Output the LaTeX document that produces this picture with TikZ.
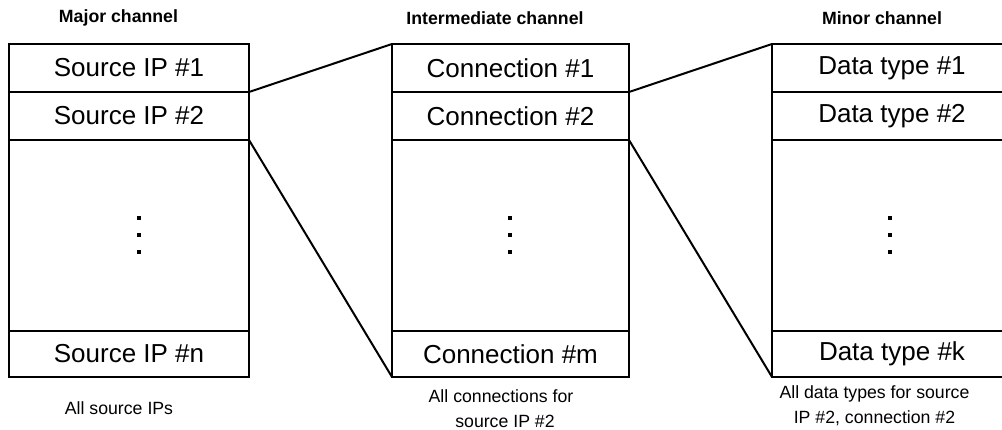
\documentclass[tikz,border=0pt]{standalone}
\usepackage{fontspec}
\setmainfont{Liberation Sans}
\begin{document}
\begin{tikzpicture}[x=1pt,y=-1pt,
  row/.style={draw,line width=2pt,inner sep=0pt,outer sep=0pt,minimum height=#1,font=\fontsize{26}{30}\selectfont},
  head/.style={font=\bfseries\fontsize{17.7}{21}\selectfont,inner sep=0pt},
  foot/.style={font=\fontsize{17.7}{25}\selectfont,inner sep=0pt,align=center},
  link/.style={line width=2pt},
  dotsq/.style={fill=black,draw=none,minimum size=3.2pt,inner sep=0pt}]
\useasboundingbox (0,0) rectangle (1002,430);
\clip (0,0) rectangle (1002,430);
% left column
\node[row=48pt,minimum width=240pt] (s1) at (129,68) {Source IP \#1};
\node[row=48pt,minimum width=240pt] (s2) at (129,116) {Source IP \#2};
\node[row=191pt,minimum width=240pt] (s3) at (129,235.5) {};
\node[row=46pt,minimum width=240pt] (sn) at (129,354) {Source IP \#n};
% middle column
\node[row=48pt,minimum width=237pt] (c1) at (510.5,68) {Connection \#1};
\node[row=48pt,minimum width=237pt] (c2) at (510.5,116) {Connection \#2};
\node[row=191pt,minimum width=237pt] (c3) at (510.5,235.5) {};
\node[row=46pt,minimum width=237pt] (cm) at (510.5,354) {Connection \#m};
% right column
\node[row=48pt,minimum width=240pt] (d1) at (892,68) {Data type \#1};
\node[row=48pt,minimum width=240pt] (d2) at (892,116) {Data type \#2};
\node[row=191pt,minimum width=240pt] (d3) at (892,235.5) {};
\node[row=46pt,minimum width=240pt] (dk) at (892,354) {Data type \#k};
% dots
\foreach \n/\xx in {dl/139,dm/510,dr/890}{
  \node[dotsq] (\n-1) at (\xx,218) {};
  \node[dotsq] (\n-2) at (\xx,235) {};
  \node[dotsq] (\n-3) at (\xx,252) {};
}
% headers
\node[head] (h1) at (118.5,18) {Major channel};
\node[head] (h2) at (495,18) {Intermediate channel};
\node[head] (h3) at (882,18) {Minor channel};
% footers
\node[foot] (f1) at (119,408) {All source IPs};
\node[foot] (f2) at (501,409) {All connections for\\ \hspace*{8pt}source IP \#2};
\node[foot] (f3) at (874.5,405.5) {All data types for source\\ IP \#2, connection \#2};
% connectors
\draw[link] (s2.north east) -- (c1.north west);
\draw[link] (s2.south east) -- (cm.south west);
\draw[link] (c2.north east) -- (d1.north west);
\draw[link] (c2.south east) -- (dk.south west);
\end{tikzpicture}
\end{document}
